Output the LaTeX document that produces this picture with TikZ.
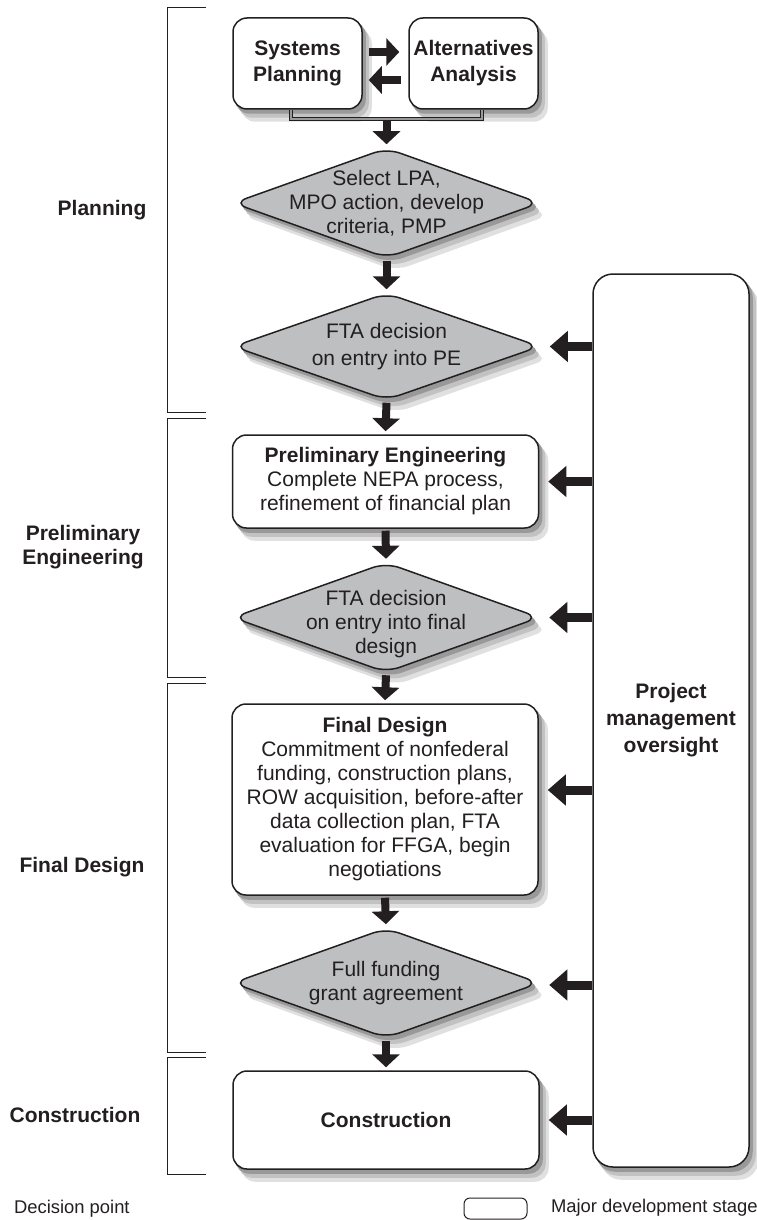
\documentclass[tikz,border=0pt]{standalone}
\usepackage{fontspec}
\setmainfont{Liberation Sans}
\usepackage{tikz}
\usetikzlibrary{shapes.geometric,arrows.meta,backgrounds}
\definecolor{ink}{RGB}{35,31,32}
\definecolor{decgray}{RGB}{190,191,193}

\begin{document}
\begin{tikzpicture}[x=0.5pt,y=-0.5pt,
        font=\fontsize{10.5}{12}\selectfont, text=ink,
        stage/.style    = {draw=ink, line width=0.75pt, fill=white, rounded corners=7pt,
                           inner sep=0pt, align=center},
        decision/.style = {diamond, draw=ink, line width=0.75pt, fill=decgray, rounded corners=7pt,
                           inner sep=0pt, minimum width=153.5pt, minimum height=55pt},
        dtext/.style    = {align=center, inner sep=0pt},
        phase/.style    = {font=\fontsize{10.5}{12}\selectfont\bfseries, align=center},
        flow/.style     = {ink, line width=4pt, -{Triangle[length=6.5pt,width=13.5pt]}},
        side/.style     = {ink, line width=4.5pt, -{Triangle[length=9pt,width=15pt]}},
        joinline/.style = {draw=ink, line width=0.4pt, double=decgray!80!black, double distance=1.3pt},
        bracket/.style  = {ink, line width=0.5pt}
        ]
    \useasboundingbox (0,0) rectangle (756,1220);

    % phase brackets
    \foreach \t/\b in {8/412, 418/677, 683/1052, 1057/1174}
        \draw[bracket] (206,\t) -| (167,\b) -- (206,\b);
    \node[phase] (lplan) at (102,210)  {Planning};
    \node[phase] (lpe)   at (83,547)   {Preliminary\\Engineering};
    \node[phase] (lfd)   at (82,867)   {Final Design};
    \node[phase] (lcons) at (75,1115)  {Construction};

    % main column
    \node[stage, font=\fontsize{10.5}{13}\selectfont\bfseries,
          minimum width=64.5pt, minimum height=45.5pt] (SP) at (297.5,63.5) {Systems\\Planning};
    \node[stage, font=\fontsize{10.5}{13}\selectfont\bfseries,
          minimum width=64.5pt, minimum height=45.5pt] (AA) at (473.5,63.5) {Alternatives\\Analysis};

    \node[decision] (d1) at (386.5,203) {};
    \node[dtext] (d1t) at (d1) {Select LPA,\\MPO action, develop\\criteria, PMP};
    \node[decision, minimum height=53.5pt] (d2) at (386.5,346.5) {};
    \node[dtext] (d2t) at (d2) {FTA decision\\[1.5pt]on entry into PE};

    \node[stage, minimum width=153pt, minimum height=46.5pt] (pe) at (385.5,481.5)
        {\textbf{Preliminary Engineering}\\Complete NEPA process,\\refinement of financial plan};

    \node[decision] (d3) at (386,617.5) {};
    \node[dtext] (d3t) at ([yshift=-3.25pt]d3.center) {FTA decision\\on entry into final\\design};

    \node[stage, minimum width=153pt, minimum height=95.5pt] (fd) at (385,799.5)
        {\textbf{Final Design}\\Commitment of nonfederal\\funding, construction plans,\\ROW acquisition, before-after\\data collection plan, FTA\\evaluation for FFGA, begin\\negotiations};

    \node[decision] (d4) at (386,983) {};
    \node[dtext] (d4t) at (d4) {Full funding\\grant agreement};

    \node[stage, font=\fontsize{10.5}{12}\selectfont\bfseries,
          minimum width=153pt, minimum height=49pt] (cons) at (386,1120) {Construction};

    \node[stage, rounded corners=10pt, font=\fontsize{10.5}{13.5}\selectfont\bfseries,
          minimum width=78pt, minimum height=446.5pt] (pmo) at (671,720.5) {Project\\management\\oversight};

    % soft shadows
    \begin{scope}[on background layer]
        \foreach \sx/\sy/\c in {4.5/-6/12, 3/-4/24, 1.5/-2/40} {
            \foreach \n in {SP,AA,pe,fd,cons}
                \fill[black!\c, rounded corners=7pt] ([shift={(\sx pt,\sy pt)}]\n.south west)
                    rectangle ([shift={(\sx pt,\sy pt)}]\n.north east);
            \fill[black!\c, rounded corners=10pt] ([shift={(\sx pt,\sy pt)}]pmo.south west)
                rectangle ([shift={(\sx pt,\sy pt)}]pmo.north east);
            \foreach \n in {d1,d2,d3,d4}
                \fill[black!\c, rounded corners=7pt] ([shift={(\sx pt,\sy pt)}]\n.west)
                    -- ([shift={(\sx pt,\sy pt)}]\n.north) -- ([shift={(\sx pt,\sy pt)}]\n.east)
                    -- ([shift={(\sx pt,\sy pt)}]\n.south) -- cycle;
        }
    \end{scope}

    % connectors
    \coordinate (jn) at (386.5,119);
    \draw[joinline] ([xshift=-3.25pt]SP.south) -- ([xshift=-3.25pt]SP.south |- jn)
        -- ([xshift=4.25pt]AA.south |- jn) -- ([xshift=4.25pt]AA.south);
    \draw[flow] ([xshift=3pt,yshift=5.75pt]SP.east) -- ([xshift=-4.5pt,yshift=5.75pt]AA.west);
    \draw[flow] ([xshift=-3.5pt,yshift=-8.25pt]AA.west) -- ([xshift=3pt,yshift=-8.25pt]SP.east);
    \draw[flow] ([yshift=-0.5pt]jn) -- ([yshift=1.5pt]d1.north);
    \foreach \a/\b in {d1/d2, d2/pe, pe/d3, d3/fd, fd/d4, d4/cons}
        \draw[flow] ([yshift=-1pt]\a.south) -- ([yshift=1.5pt]\b.north);
    \foreach \t/\s in {d2/0, pe/0, d3/0, fd/4.75, d4/-1, cons/0}
        \draw[side] ([yshift=\s pt]\t.east -| pmo.west) -- ([xshift=4.5pt,yshift=\s pt]\t.east);

    % legend
    \node[anchor=west, font=\fontsize{9.2}{11}\selectfont] (lgdec) at (7,1209) {Decision point};
    \node[stage, line width=0.5pt, rounded corners=3pt, minimum width=31.5pt,
          minimum height=10.5pt] (lgbox) at (495.5,1208.5) {};
    \node[anchor=west, font=\fontsize{9.2}{11}\selectfont] (lgstage) at (544,1208) {Major development stage};
\end{tikzpicture}
\end{document}
